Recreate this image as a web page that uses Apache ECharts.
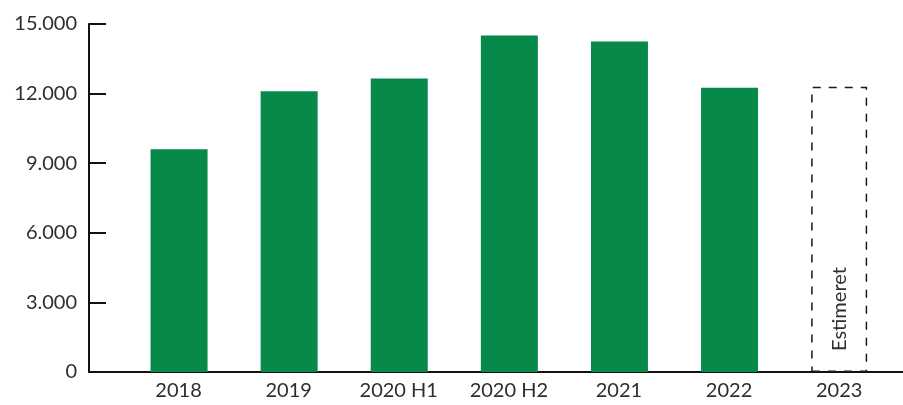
<!DOCTYPE html>
<html>
<head>
<meta charset="utf-8">
<script src="https://cdn.jsdelivr.net/npm/echarts@6/dist/echarts.min.js"></script>
<style>
html,body{margin:0;padding:0;background:#fff;}
#chart{width:903px;height:405px;}
</style>
</head>
<body>
<div id="chart"></div>
<script>
const categories = ['2018', '2019', '2020 H1', '2020 H2', '2021', '2022', '2023'];
const actualValues = [9600, 12100, 12650, 14500, 14250, 12250, null];
const estimatedValues = [null, null, null, null, null, null, 12300];
const estimateLabel = 'Estimeret';
const yMin = 0, yMax = 15000, yInterval = 3000;

const chart = echarts.init(document.getElementById('chart'));
const textColor = '#2e2e2e';
const font = 'Lato';

chart.setOption({
  animation: false,
  backgroundColor: '#ffffff',
  grid: [
    { left: 89, right: 0, top: 24, height: 348 },
    { left: 123.5, width: 770.7, top: 24, height: 348 }
  ],
  xAxis: [
    {
      gridIndex: 0, type: 'value', min: 0, max: 1,
      axisLine: { show: true, lineStyle: { color: '#111', width: 2 } },
      axisTick: { show: false }, axisLabel: { show: false }, splitLine: { show: false }
    },
    {
      gridIndex: 1, type: 'category', data: categories,
      axisLine: { show: false }, axisTick: { show: false },
      axisLabel: { color: textColor, fontSize: 20, fontFamily: font, margin: 9 }
    }
  ],
  yAxis: [
    {
      gridIndex: 0, type: 'value', min: yMin, max: yMax, interval: yInterval,
      axisLine: { show: true, lineStyle: { color: '#111', width: 2 } },
      axisTick: { show: true, inside: true, length: 17, lineStyle: { color: '#111', width: 2 } },
      splitLine: { show: false },
      axisLabel: {
        color: textColor, fontSize: 20, fontFamily: font, margin: 12,
        formatter: v => v === 0 ? '0' : v.toLocaleString('de-DE')
      }
    },
    {
      gridIndex: 1, type: 'value', min: yMin, max: yMax, interval: yInterval,
      show: false
    }
  ],
  series: [
    {
      type: 'bar', xAxisIndex: 1, yAxisIndex: 1,
      data: actualValues, barWidth: 57, barGap: '-100%',
      itemStyle: { color: '#07894a' }
    },
    {
      type: 'bar', xAxisIndex: 1, yAxisIndex: 1,
      data: estimatedValues, barWidth: 56, barGap: '-100%',
      itemStyle: { color: 'rgba(0,0,0,0)', borderColor: '#1a1a1a', borderWidth: 1.5, borderType: [8, 8] },
      label: {
        show: true, position: 'insideBottom', rotate: 90, distance: 23,
        align: 'left', verticalAlign: 'middle', offset: [-2, 0],
        formatter: estimateLabel, color: textColor, fontSize: 20, fontFamily: font
      }
    }
  ]
});
</script>
</body>
</html>
